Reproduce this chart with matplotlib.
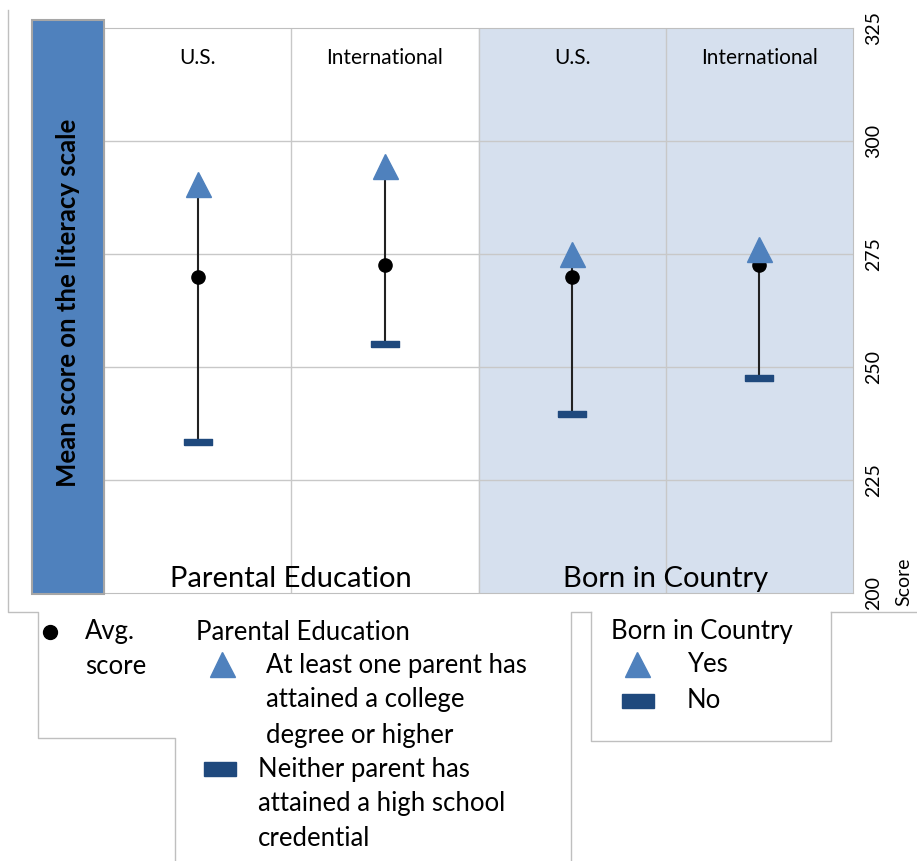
import matplotlib.pyplot as plt
from matplotlib.patches import Rectangle
from matplotlib.lines import Line2D

plt.rcParams['font.family'] = ['Lato', 'DejaVu Sans']

groups = ['U.S.', 'International', 'U.S.', 'International']
avg_score = [270, 272.5, 270, 272.5]
high_score = [290.5, 294.5, 275, 276]     # triangles
low_score = [233.5, 255, 239.5, 247.5]    # bars
yticks = [200, 225, 250, 275, 300, 325]

W, H = 917, 861
fig = plt.figure(figsize=(W / 100, H / 100), dpi=100)

def fx(px):
    return px / W

def fy(py):
    return 1 - py / H

ax = fig.add_axes([fx(104), fy(593), fx(853) - fx(104), fy(28) - fy(593)])
x = list(range(len(groups)))

ax.axvspan(1.5, 3.5, color='#d6e0ee', zorder=0)
for v in yticks[1:-1]:
    ax.axhline(v, color='#c8c8c8', lw=1, zorder=1)
for v in [0.5, 1.5, 2.5]:
    ax.axvline(v, color='#c8c8c8', lw=1, zorder=1)

ax.vlines(x, low_score, high_score, color='#222222', lw=1.5, zorder=2)
bar_marker = [(-2, -0.5), (2, -0.5), (2, 0.5), (-2, 0.5), (-2, -0.5)]
ax.plot(x, low_score, ls='none', marker=bar_marker, ms=20, color='#1f497d', zorder=3)
ax.plot(x, avg_score, ls='none', marker='o', ms=9.5, color='black', zorder=4)
ax.plot(x, high_score, ls='none', marker='^', ms=18, color='#4f81bd', zorder=5)

ax.set_xlim(-0.5, 3.5)
ax.set_ylim(200, 325)
ax.set_xticks([])
ax.set_yticks(yticks)
ax.yaxis.tick_right()
ax.tick_params(axis='y', length=0, pad=9, labelsize=14)
for lab in ax.get_yticklabels():
    lab.set_rotation(90)
    lab.set_va('center')
for s in ax.spines.values():
    s.set_color('#bfbfbf')

for i, g in enumerate(groups):
    ax.text(i, 318.3, g, ha='center', va='center', fontsize=15)
ax.text(0.5, 203, 'Parental Education', ha='center', va='center', fontsize=21)
ax.text(2.5, 203, 'Born in Country', ha='center', va='center', fontsize=21)

fig.text(fx(904), fy(582), 'Score', rotation=90, ha='center', va='center', fontsize=14)

# blue side panel with the axis title
fig.patches.append(Rectangle((fx(32), fy(594)), fx(72), fy(20) - fy(594),
                             transform=fig.transFigure, facecolor='#4f81bd',
                             edgecolor='#a6a6a6', lw=1.5))
fig.text(fx(68), fy(303), 'Mean score on the literacy scale', rotation=90,
         ha='center', va='center', fontsize=18.5, fontweight='bold')

# outline lines around chart and legends
def fig_line(xs, ys):
    fig.add_artist(Line2D([fx(p) for p in xs], [fy(p) for p in ys],
                          transform=fig.transFigure, color='#bfbfbf', lw=1))

fig_line([8, 8, 38, 38, 175, 175], [10, 612, 612, 738, 738, 861])
fig_line([571, 571, 591], [861, 612, 612])
fig_line([591, 591, 831, 831], [612, 741, 741, 612])
fig_line([831, 917], [612, 612])

# legend content
fs = 18.5
fig.add_artist(Line2D([fx(50)], [fy(632)], marker='o', ms=10, color='black',
                      transform=fig.transFigure))
fig.text(fx(85), fy(632), 'Avg.', va='center', fontsize=fs)
fig.text(fx(85), fy(666), 'score', va='center', fontsize=fs)
fig.text(fx(196), fy(632), 'Parental Education', va='center', fontsize=fs)
fig.add_artist(Line2D([fx(222)], [fy(664)], marker='^', ms=18, color='#4f81bd',
                      transform=fig.transFigure))
for k, t in enumerate(['At least one parent has', 'attained a college', 'degree or higher']):
    fig.text(fx(266), fy(665 + 35 * k), t, va='center', fontsize=fs)
fig.patches.append(Rectangle((fx(204), fy(776)), fx(32), fy(762) - fy(776),
                             transform=fig.transFigure, color='#1f497d'))
for k, t in enumerate(['Neither parent has', 'attained a high school', 'credential']):
    fig.text(fx(258), fy(770 + 34 * k), t, va='center', fontsize=fs)

fig.text(fx(611), fy(632), 'Born in Country', va='center', fontsize=fs)
fig.add_artist(Line2D([fx(637)], [fy(664)], marker='^', ms=18, color='#4f81bd',
                      transform=fig.transFigure))
fig.text(fx(687), fy(665), 'Yes', va='center', fontsize=fs)
fig.patches.append(Rectangle((fx(622), fy(708)), fx(32), fy(694) - fy(708),
                             transform=fig.transFigure, color='#1f497d'))
fig.text(fx(687), fy(701), 'No', va='center', fontsize=fs)

fig.savefig('out.png', dpi=100)
